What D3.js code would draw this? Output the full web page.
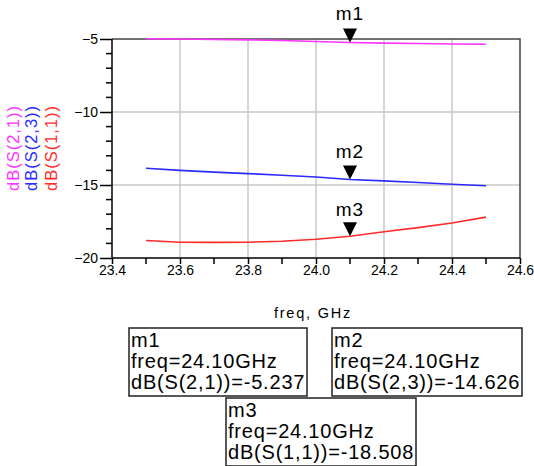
<!DOCTYPE html>
<html>
<head>
<meta charset="utf-8">
<script src="https://cdn.jsdelivr.net/npm/d3@7"></script>
<style>
  body { margin: 0; background: #fff; }
  svg { display: block; font-family: "Liberation Sans", Arial, sans-serif; }
</style>
</head>
<body>
<div class="chart"></div>
<script>
// data
const freq = [23.5, 23.6, 23.7, 23.8, 23.9, 24.0, 24.1, 24.2, 24.3, 24.4, 24.5];
const s21 = [-4.98, -5.0, -5.03, -5.06, -5.1, -5.17, -5.237, -5.28, -5.31, -5.34, -5.36];
const s23 = [-13.85, -14.0, -14.12, -14.22, -14.33, -14.45, -14.626, -14.72, -14.83, -14.95, -15.05];
const s11 = [-18.8, -18.92, -18.93, -18.92, -18.85, -18.72, -18.508, -18.2, -17.92, -17.6, -17.2];

const seriesNames = ['dB(S(2,1))', 'dB(S(2,3))', 'dB(S(1,1))'];
const seriesColors = ['#ff33ff', '#2b2bff', '#ff2b2b'];

const xTicks = [23.4, 23.6, 23.8, 24.0, 24.2, 24.4, 24.6];
const xMinor = [23.5, 23.7, 23.9, 24.1, 24.3, 24.5];
const yTicks = [-20, -15, -10, -5];
const yMinor = d3.range(-19, -5, 1).filter(d => d % 5 !== 0);

const markerNames = ['m1', 'm2', 'm3'];
const markerFreq = 24.1;
const markerVals = [-5.237, -14.626, -18.508];

const W = 534, H = 466;
const svg = d3.select('.chart').append('svg').attr('width', W).attr('height', H);

const x = d3.scaleLinear().domain([23.4, 24.6]).range([112, 520]);
const y = d3.scaleLinear().domain([-20, -5]).range([258, 39]);

// grid
svg.append('g').selectAll('line').data(xTicks.slice(1, -1)).join('line')
  .attr('x1', d => x(d)).attr('x2', d => x(d))
  .attr('y1', y(-5)).attr('y2', y(-20))
  .attr('stroke', '#c8c8c8').attr('stroke-width', 1.5);
svg.append('g').selectAll('line').data(yTicks.slice(1, -1)).join('line')
  .attr('x1', x(23.4)).attr('x2', x(24.6))
  .attr('y1', d => y(d)).attr('y2', d => y(d))
  .attr('stroke', '#c8c8c8').attr('stroke-width', 1.5);

// frame top / right
svg.append('path')
  .attr('d', `M${x(23.4)},${y(-5)}H${x(24.6)}V${y(-20)}`)
  .attr('fill', 'none').attr('stroke', '#444').attr('stroke-width', 1.5);

// series
const line = d3.line().x((d, i) => x(freq[i])).y(d => y(d));
[s21, s23, s11].forEach((s, k) => {
  svg.append('path').datum(s).attr('d', line)
    .attr('fill', 'none').attr('stroke', seriesColors[k]).attr('stroke-width', 1.6);
});

// axes
const xAxis = svg.append('g').attr('transform', `translate(0,${y(-20)})`)
  .call(d3.axisBottom(x).tickValues(xTicks).tickFormat(d3.format('.1f')).tickSize(6).tickPadding(1));
xAxis.append('g').selectAll('line').data(xMinor).join('line')
  .attr('x1', d => x(d)).attr('x2', d => x(d)).attr('y1', 0).attr('y2', 6)
  .attr('stroke', '#000').attr('stroke-width', 1.5);

const yAxis = svg.append('g').attr('transform', `translate(${x(23.4)},0)`)
  .call(d3.axisLeft(y).tickValues(yTicks).tickSize(12).tickPadding(2));
yAxis.append('g').selectAll('line').data(yMinor).join('line')
  .attr('x1', -6).attr('x2', 0).attr('y1', d => y(d)).attr('y2', d => y(d))
  .attr('stroke', '#000').attr('stroke-width', 1.5);

[xAxis, yAxis].forEach(a => {
  a.select('.domain').attr('stroke', '#000').attr('stroke-width', 1.5);
  a.selectAll('.tick line').attr('stroke', '#000').attr('stroke-width', 1.5);
  a.selectAll('text').attr('font-size', 14).attr('fill', '#000')
    .attr('font-family', '"Liberation Sans", Arial, sans-serif');
});
yAxis.select('.domain').attr('d', `M0,${y(-5)}V${y(-20)}`);
xAxis.select('.domain').attr('d', `M${x(23.4)},0H${x(24.6)}`);

// rotated y labels
const yLab = [19, 37, 57];
seriesNames.forEach((n, k) => {
  svg.append('text')
    .attr('transform', `translate(${yLab[k]},148) rotate(-90)`)
    .attr('text-anchor', 'middle')
    .attr('font-size', 16.5).attr('letter-spacing', 1)
    .attr('fill', seriesColors[k]).text(n);
});

// x label
svg.append('text').attr('x', 313).attr('y', 318).attr('text-anchor', 'middle')
  .attr('font-size', 14.5).attr('letter-spacing', 1.8).text('freq, GHz');

// markers
const mLabelY = [20, 158, 216];
markerVals.forEach((v, k) => {
  const px = x(markerFreq), py = y(v);
  svg.append('path')
    .attr('d', `M${px - 7},${py - 14}H${px + 7}L${px},${py}Z`)
    .attr('fill', '#000');
  svg.append('text').attr('x', px).attr('y', mLabelY[k]).attr('text-anchor', 'middle')
    .attr('font-size', 19).attr('letter-spacing', 1).text(markerNames[k]);
});

// marker readout boxes
const boxes = [
  { x: 129, y: 328, w: 178, h: 68 },
  { x: 332, y: 328, w: 190, h: 68 },
  { x: 226, y: 398, w: 190, h: 68 }
];
boxes.forEach((b, k) => {
  const g = svg.append('g');
  g.append('rect').attr('x', b.x).attr('y', b.y).attr('width', b.w).attr('height', b.h)
    .attr('fill', 'none').attr('stroke', '#222').attr('stroke-width', 1.5);
  const lines = [markerNames[k], `freq=${markerFreq.toFixed(2)}GHz`, `${seriesNames[k]}=${markerVals[k].toFixed(3)}`];
  lines.forEach((t, i) => {
    g.append('text').attr('x', b.x + 2).attr('y', b.y + 19 + i * 21)
      .attr('font-size', 20).attr('letter-spacing', 0.8).text(t);
  });
});
</script>
</body>
</html>
